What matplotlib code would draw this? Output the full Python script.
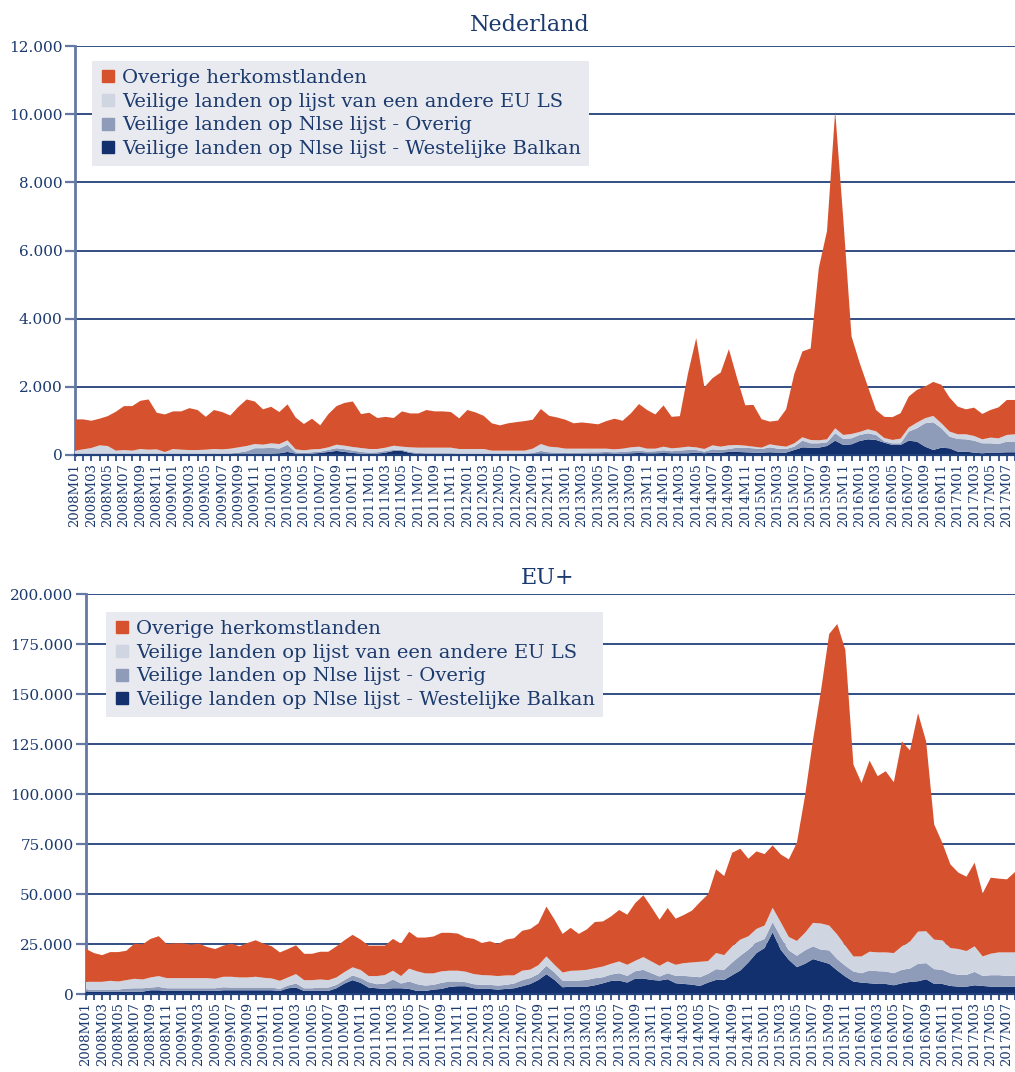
import numpy as np
import matplotlib
matplotlib.use("Agg")
import matplotlib.pyplot as plt
from matplotlib.lines import Line2D
from matplotlib.ticker import FuncFormatter, MultipleLocator

# ---------------- data ----------------
months = [f"{y}M{m:02d}" for y in range(2008, 2018) for m in range(1, 13)][:116]

series_names = ["Overige herkomstlanden",
                "Veilige landen op lijst van een andere EU LS",
                "Veilige landen op Nlse lijst - Overig",
                "Veilige landen op Nlse lijst - Westelijke Balkan"]

# Nederland
nl_balkan = [10,10,10,10,10,10,10,10,15,15,15,10,15,15,20,20,30,35,30,25,
             20,30,40,40,40,50,90,40,20,40,60,90,120,90,60,40,30,40,70,120,
             120,60,30,30,30,30,30,25,25,30,30,20,20,20,20,20,40,50,40,30,
             30,40,40,40,40,50,40,40,50,60,50,50,60,50,50,50,70,50,70,70,
             90,90,80,70,70,80,70,70,147,225,215,215,265,421,294,314,412,460,441,363,
             294,294,421,392,245,147,215,196,98,98,70,50,70,70,80,80]
nl_overig = [10,10,10,15,15,10,10,10,10,10,10,5,10,10,10,10,5,5,10,20,
             50,80,160,160,170,140,210,40,40,40,40,60,80,80,70,50,40,40,50,30,
             30,30,30,20,20,20,20,15,15,10,10,10,10,10,10,10,20,70,40,40,
             30,30,30,40,40,40,40,50,60,70,50,60,80,60,80,97,77,48,97,77,
             86,125,135,126,106,145,116,106,98,196,128,128,107,216,176,176,176,177,147,40,
             49,49,265,392,686,813,569,343,372,362,351,293,273,253,312,312]
nl_eu_ls = [107,146,185,258,239,107,126,107,151,131,141,73,151,131,116,116,121,136,126,140,
            155,154,122,103,132,132,130,86,77,86,76,75,103,103,104,115,106,96,95,123,
            94,135,155,165,165,165,165,136,136,136,136,97,97,97,97,97,126,202,164,155,
            126,116,116,106,106,96,86,96,115,114,86,76,104,86,85,98,78,78,117,98,
            108,79,59,49,39,89,88,69,98,99,98,88,88,147,118,127,88,118,108,98,
            98,137,118,166,147,187,147,147,138,148,138,117,167,167,196,216]
nl_overige = [918,879,800,782,876,1143,1289,1308,1414,1474,1074,1102,1104,1124,1229,1174,964,1144,1094,975,
              1190,1366,1248,1037,1073,938,1055,934,773,899,694,975,1132,1257,1336,995,1064,909,905,812,
              1036,995,1005,1105,1065,1065,1045,899,1144,1074,974,803,743,803,838,868,849,1028,906,875,
              849,744,769,744,714,809,899,819,995,1251,1134,1004,1211,924,925,2155,3205,1814,1971,2175,
              2821,1961,1186,1225,835,666,736,1095,2037,2520,2684,5059,6110,9306,6312,2863,2024,1255,624,620,
              669,745,911,960,932,998,1129,999,812,732,831,745,810,910,1027,1007]

# EU+
eu_balkan = [1180,1180,1180,1180,1180,1180,1180,1180,1860,1860,1520,1520,1520,1520,1520,1520,1520,1860,1860,1860,
             1860,1860,1860,1860,1520,2870,3210,1520,1520,1520,1520,2870,5240,6930,5580,3210,2870,2535,2870,2870,
             2535,1520,1520,2200,2535,3550,3890,3890,2870,2535,2535,2200,2535,2870,3890,5000,7000,9900,7050,3360,
             3690,3690,3690,4360,5370,6540,6710,5710,7720,7720,7050,6710,7380,5370,5030,4700,4030,5710,7050,7050,
             9400,11750,15770,20470,22990,30880,22150,17120,13420,15100,17450,16280,15100,11750,8730,6210,5710,5370,5030,5030,
             4360,5370,6040,6380,7380,5030,5030,4030,3690,3690,4360,4030,3690,3690,3690,3690]
eu_overig = [1020,1020,1020,1020,1020,1520,1690,1690,1350,1690,1350,1350,1350,1350,1350,1350,1350,1520,1350,1350,
             1350,1350,1350,1350,1015,1355,2030,1350,1350,1690,1690,1690,1690,2370,2360,2705,2030,2705,4400,2370,
             3715,3380,2705,2360,3045,2700,2360,2025,2030,2025,2025,2025,2025,2370,3040,3000,3000,4200,3690,3350,
             2850,3020,3360,3530,3020,3190,3690,3350,3690,4360,3350,2020,3020,3690,4030,4030,4360,4360,5370,5030,
             6370,7380,6380,5370,4530,5030,6380,4690,5710,6710,6380,5870,6710,5700,5370,5030,4690,6380,6380,6210,
             6040,6710,6710,8720,8060,7390,7050,6370,5870,5870,6710,5030,5710,5710,5370,5370]
eu_eu_ls = [3884,3884,3884,4390,4050,4230,4730,4400,5070,5410,5070,5070,5070,5070,5070,5070,4730,5240,5410,5070,
            5070,5410,4900,4560,4055,4055,4730,4060,4060,4060,3720,3720,4055,4050,4060,3045,4060,4220,4390,3720,
            6425,6420,6085,5750,5740,5410,5410,5235,5070,4900,4740,4735,4740,4060,4730,4200,4400,4690,3860,4030,
            5040,5040,5030,5030,5370,5370,5880,5540,5200,6380,5880,5370,5880,5540,6380,7040,7720,6370,8050,7380,
            8060,8050,6710,6710,6710,7210,7380,6720,7380,8730,11740,13090,12420,12250,10060,7550,8390,9390,9400,9570,
            10070,11750,13430,16110,15940,14760,14770,12590,12930,11920,12760,9730,10740,11410,11750,11750]
eu_overige = [16396,14366,13351,14366,14706,14700,17580,17570,19270,19940,17070,17410,17410,16730,17240,15550,14880,15550,16560,15550,
              17240,18250,17070,16060,14200,14200,14370,13180,13180,13855,14195,15550,15885,16225,15210,15210,15210,14710,15890,16220,
              18425,16900,17910,18420,19270,18930,18590,17070,17580,16060,17060,16050,17910,18590,19940,20300,20900,24910,22600,19320,
              21480,18310,20220,23080,22540,23700,25720,25050,28890,30890,27120,23050,26720,23050,24060,25880,29790,33410,41860,39540,
              46810,45450,38780,38750,35740,31170,33890,38780,49110,68350,91530,116860,145770,155300,147840,95910,86710,95560,88090,90590,
              85430,102470,95620,109190,94920,57580,48770,41830,38170,37190,41820,31570,38030,36860,36530,40190]

# ---------------- style ----------------
C_ORANGE = "#D6522E"
C_LIGHT = "#D0D5E2"
C_MID = "#8E9BB9"
C_DARK = "#12306E"
C_TEXT = "#1B3A6E"
C_GRID = "#22407A"
C_SPINE = "#6478A3"
FONT = "DejaVu Serif"

plt.rcParams['font.family'] = [FONT]

W, H = 1015, 1072
fig = plt.figure(figsize=(W / 100, H / 100), dpi=100)

thousands = FuncFormatter(lambda v, p: f"{v:,.0f}".replace(",", "."))


def draw(ax, balkan, overig, eu_ls, overige, ymax, ystep, title, title_x, title_y, leg_anchor):
    x = np.arange(len(months))
    ax.stackplot(x, balkan, overig, eu_ls, overige,
                 colors=[C_DARK, C_MID, C_LIGHT, C_ORANGE], linewidth=0, zorder=3)
    ax.set_xlim(0, len(months) - 1)
    ax.set_ylim(0, ymax)
    ax.yaxis.set_major_locator(MultipleLocator(ystep))
    ax.yaxis.set_major_formatter(thousands)
    ax.grid(axis='y', color=C_GRID, linewidth=1.3, zorder=1)
    ax.set_axisbelow(True)
    for s in ['top', 'right']:
        ax.spines[s].set_visible(False)
    ax.spines['left'].set_color(C_SPINE)
    ax.spines['left'].set_linewidth(2)
    ax.spines['bottom'].set_color(C_GRID)
    ax.spines['bottom'].set_linewidth(1.6)
    ax.spines['bottom'].set_zorder(4)
    ax.set_xticks(x, minor=True)
    ax.set_xticks(x[::2])
    ax.set_xticklabels(months[::2], rotation=90, fontsize=9.5, color=C_TEXT)
    ax.tick_params(axis='x', which='both', length=4, width=1.2, color=C_GRID, pad=2)
    ax.tick_params(axis='y', length=7, width=1.6, color=C_SPINE, labelsize=11,
                   labelcolor=C_TEXT, pad=2)
    fig.text(title_x / W, 1 - title_y / H, title, ha='center', va='center',
             fontsize=16, color=C_TEXT)
    handles = [Line2D([], [], marker='s', linestyle='none', markersize=8.5,
                      markerfacecolor=c, markeredgecolor=c)
               for c in [C_ORANGE, C_LIGHT, C_MID, C_DARK]]
    leg = ax.legend(handles, series_names, loc='upper left', bbox_to_anchor=leg_anchor,
                    frameon=True, fancybox=False, facecolor="#E9EAEF", edgecolor="none",
                    framealpha=1, fontsize=14, labelcolor=C_TEXT, handlelength=0.8,
                    handletextpad=0.35, labelspacing=0.3, borderpad=0.4,
                    borderaxespad=0)
    leg.set_zorder(5)


ax1 = fig.add_axes([75 / W, 1 - 455 / H, (W - 75) / W, 409 / H])
draw(ax1, nl_balkan, nl_overig, nl_eu_ls, nl_overige, 12000, 2000,
     "Nederland", 530, 25, (17 / 940, 394 / 409))

ax2 = fig.add_axes([86 / W, 1 - 994 / H, (W - 86) / W, 400 / H])
draw(ax2, eu_balkan, eu_overig, eu_eu_ls, eu_overige, 200000, 25000,
     "EU+", 548, 578, (20 / 929, 382 / 400))

fig.savefig("out.png", dpi=100)
